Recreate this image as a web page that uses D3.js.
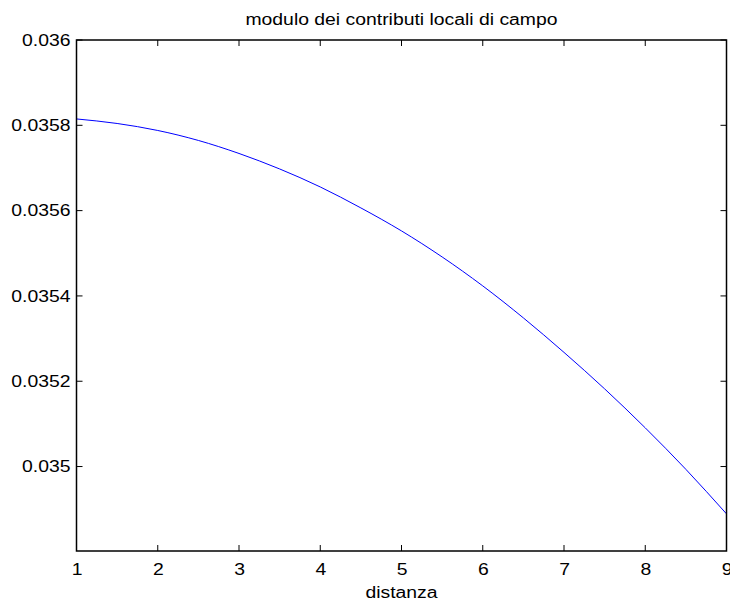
<!DOCTYPE html>
<html>
<head>
<meta charset="utf-8">
<script src="https://cdn.jsdelivr.net/npm/d3@7"></script>
<style>
  html, body { margin: 0; padding: 0; background: #fff; }
  svg { display: block; }
  text { font-family: "Liberation Sans", Arial, sans-serif; fill: #000; }
</style>
</head>
<body>
<svg id="chart" width="730" height="604"></svg>
<script>
// distance samples and field-contribution magnitude
const distanza = [1, 1.5, 2, 2.5, 3, 3.5, 4, 4.5, 5, 5.5, 6, 6.5, 7, 7.5, 8, 8.5, 9];
const modulo = [0.0358149, 0.0358043, 0.0357879, 0.0357645, 0.0357340, 0.0356977, 0.0356555, 0.0356063,
                0.0355524, 0.0354914, 0.0354235, 0.0353485, 0.0352676, 0.0351821, 0.0350907, 0.0349934, 0.0348891];
const xTicks = [1, 2, 3, 4, 5, 6, 7, 8, 9];
const yTicks = [0.035, 0.0352, 0.0354, 0.0356, 0.0358, 0.036];
const xDomain = [1, 9];
const yDomain = [0.034802, 0.036];
const titolo = "modulo dei contributi locali di campo";
const etichettaX = "distanza";

const svg = d3.select("#chart");
const m = { left: 76.5, right: 726.5, top: 40, bottom: 551 };

const x = d3.scaleLinear().domain(xDomain).range([m.left, m.right]);
const y = d3.scaleLinear().domain(yDomain).range([m.bottom, m.top]);

const tickLen = 6;
const stretch = 1.21;   // wide sans rendering of the labels
const fmtY = d => d3.format(".4~f")(d);

function widen(sel, k) {
  sel.each(function () {
    const w = this.getComputedTextLength();
    d3.select(this).attr("textLength", w * k).attr("lengthAdjust", "spacingAndGlyphs");
  });
}

// bottom axis with labels, ticks pointing inward
svg.append("g")
  .attr("transform", `translate(0,${m.bottom})`)
  .call(d3.axisBottom(x).tickValues(xTicks).tickSize(0).tickPadding(0).tickFormat(d3.format("d")))
  .call(g => g.select(".domain").remove())
  .call(g => g.selectAll("text").attr("font-size", 16).attr("font-family", "Liberation Sans, Arial, sans-serif")
                 .attr("y", 0).attr("dy", null).attr("transform", "translate(0,24)"))
  .call(g => widen(g.selectAll("text"), stretch));

// left axis with labels
svg.append("g")
  .attr("transform", `translate(${m.left},0)`)
  .call(d3.axisLeft(y).tickValues(yTicks).tickSize(0).tickPadding(6).tickFormat(fmtY))
  .call(g => g.select(".domain").remove())
  .call(g => g.selectAll("text").attr("font-size", 16).attr("font-family", "Liberation Sans, Arial, sans-serif"))
  .call(g => widen(g.selectAll("text"), stretch));

// inward tick marks on all four sides
const ticks = svg.append("g").attr("stroke", "#000").attr("stroke-width", 1);
ticks.selectAll("line.xb").data(xTicks).join("line")
  .attr("x1", d => x(d)).attr("x2", d => x(d))
  .attr("y1", m.bottom).attr("y2", m.bottom - tickLen);
ticks.selectAll("line.xt").data(xTicks).join("line")
  .attr("x1", d => x(d)).attr("x2", d => x(d))
  .attr("y1", m.top).attr("y2", m.top + tickLen);
ticks.selectAll("line.yl").data(yTicks).join("line")
  .attr("x1", m.left).attr("x2", m.left + tickLen)
  .attr("y1", d => y(d)).attr("y2", d => y(d));
ticks.selectAll("line.yr").data(yTicks).join("line")
  .attr("x1", m.right).attr("x2", m.right - tickLen)
  .attr("y1", d => y(d)).attr("y2", d => y(d));

// data curve
const line = d3.line().x((d, i) => x(distanza[i])).y(d => y(d)).curve(d3.curveMonotoneX);
svg.append("path")
  .datum(modulo)
  .attr("fill", "none")
  .attr("stroke", "#0000ff")
  .attr("stroke-width", 1)
  .attr("d", line);

// axes box
svg.append("rect")
  .attr("x", m.left).attr("y", m.top)
  .attr("width", m.right - m.left).attr("height", m.bottom - m.top)
  .attr("fill", "none").attr("stroke", "#000").attr("stroke-width", 1.5);

// title and x label
svg.append("text")
  .attr("x", (m.left + m.right) / 2).attr("y", 25)
  .attr("text-anchor", "middle").attr("font-size", 16)
  .text(titolo)
  .call(widen, stretch);

svg.append("text")
  .attr("x", (m.left + m.right) / 2).attr("y", 598)
  .attr("text-anchor", "middle").attr("font-size", 16)
  .text(etichettaX)
  .call(widen, stretch);
</script>
</body>
</html>
